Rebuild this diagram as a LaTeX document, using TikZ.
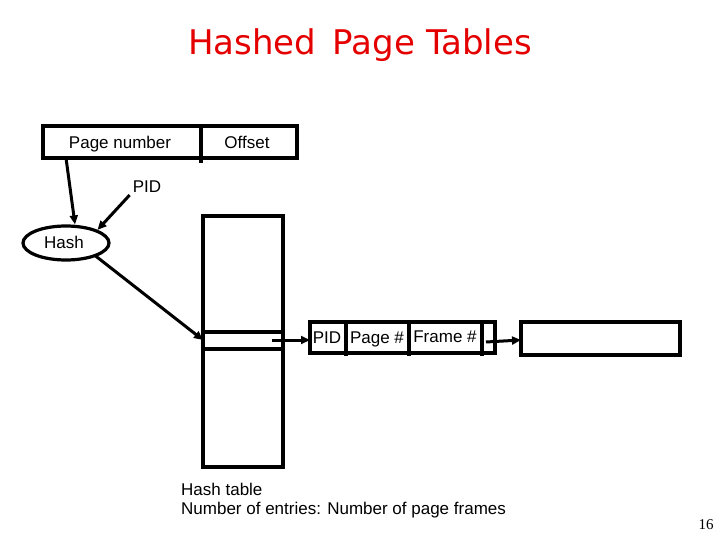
\documentclass[tikz,border=0pt]{standalone}
\usepackage{fontspec}
\setmainfont{Liberation Sans}
\newfontfamily\titlefont{DejaVu Sans}
\newfontfamily\numfont{Liberation Serif}
\usetikzlibrary{shapes.geometric,arrows.meta}
\begin{document}
\begin{tikzpicture}[x=1pt,y=-1pt,
  thick line/.style={line width=3.2pt},
  arr/.style={line width=3pt,-{Triangle[length=9pt,width=8pt]}},
  lbl/.style={font=\fontsize{17}{19}\selectfont,inner sep=0pt},
  box/.style={draw,line width=3.2pt}]
\useasboundingbox (0,0) rectangle (720,540);
% title
\node[font=\titlefont\fontsize{34}{38}\selectfont,text=red!90!black] (title) at (360,45) {Hashed\, Page Tables};
% address bar
\draw[box] (43,126) rectangle (297,158);
\draw[thick line] (201,126) -- (201,163);
\node[lbl] (pn) at (120,144) {Page number};
\node[lbl] (off) at (247,142) {Offset};
\coordinate (pnb) at (66,158);
% PID
\node[lbl] (pid) at (147,187) {PID};
% Hash
\node[draw,ellipse,line width=3.2pt,minimum width=86pt,minimum height=34pt,inner sep=0pt] (hash) at (66,243) {};
\node[lbl] (hashtxt) at (64,242) {Hash};
\draw[arr] (pnb) -- (hash.north -| 75,0);
\draw[arr] (pid.south west) ++(-3,2) -- (hash.north east);
% hash table
\draw[box] (203,216) rectangle (283,467);
\draw[thick line] (203,332) -- (283,332);
\draw[thick line] (203,349) -- (283,349);
\coordinate (row) at (203,340);
\draw[arr] (hash.south east) ++(-3,-1) -- (row);
% entry
\draw[box] (310,322) rectangle (495,353);
\foreach \x in {346,409,482} \draw[thick line] (\x,322) -- (\x,356);
\node[lbl] (epid) at (327,338) {PID};
\node[lbl] (epg) at (377,339) {Page \#};
\node[lbl] (efr) at (445,337) {Frame \#};
\coordinate (rowsrc) at (272,340);
\coordinate (entryL) at (310,340);
\draw[arr] (rowsrc) -- (entryL);
% next box
\draw[box] (521,322) rectangle (680,355);
\coordinate (nsrc) at (486,342);
\coordinate (nbox) at (521,340);
\draw[arr] (nsrc) -- (nbox);
% caption
\node[lbl,anchor=west,align=left] (cap) at (181,501) {Hash table\\[0pt]Number of entries: Number of page frames};
\node[font=\numfont\fontsize{15}{16}\selectfont,inner sep=0pt] (num) at (706,525) {16};
\end{tikzpicture}
\end{document}
